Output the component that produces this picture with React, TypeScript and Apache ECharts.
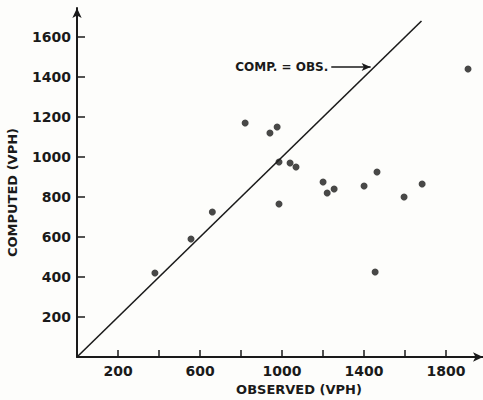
import React, { useEffect, useRef } from "react";
import * as echarts from "echarts";

const observed = [380, 556, 660, 820, 941, 976, 985, 985, 1039, 1068, 1200, 1220, 1254, 1400, 1463, 1454, 1595, 1683, 1907];
const computed = [420, 590, 725, 1170, 1120, 1150, 975, 765, 970, 950, 875, 820, 840, 855, 925, 425, 800, 865, 1440];
const xTicks = [200, 400, 600, 800, 1000, 1200, 1400, 1600, 1800];
const xLabels = [200, 600, 1000, 1400, 1800];
const yTicks = [200, 400, 600, 800, 1000, 1200, 1400, 1600];
const identityLine = [[0, 0], [1680, 1680]];
const annotationArrow = [[1240, 1450], [1432, 1450]];
const annotationText = "COMP. = OBS.";

const FONT = "DejaVu Sans";
const INK = "#1a1a1a";

export default function App() {
  const ref = useRef<HTMLDivElement>(null);
  useEffect(() => {
    const chart = echarts.init(ref.current!, null, { renderer: "svg" });
    chart.setOption({
      animation: false,
      backgroundColor: "#fdfdfb",
      grid: { left: 77, right: 0, top: 8, bottom: 43, containLabel: false, outerBoundsMode: "none" },
      xAxis: {
        type: "value",
        min: 0,
        max: 1980,
        splitLine: { show: false },
        axisLine: { onZero: false, symbol: ["none", "arrow"], symbolSize: [7, 10], lineStyle: { color: INK, width: 2 } },
        axisTick: { inside: true, length: 7, customValues: xTicks, lineStyle: { color: INK, width: 1.5 } },
        axisLabel: { customValues: xLabels, formatter: (v: number) => String(v), margin: 7, color: INK, fontFamily: FONT, fontWeight: "bold", fontSize: 14 },
        name: "OBSERVED (VPH)",
        nameLocation: "middle",
        nameGap: 26,
        nameTextStyle: { color: INK, fontFamily: FONT, fontWeight: "bold", fontSize: 13, padding: [0, 0, 0, 38] },
      },
      yAxis: {
        type: "value",
        min: 0,
        max: 1745,
        splitLine: { show: false },
        axisLine: { onZero: false, symbol: ["none", "arrow"], symbolSize: [7, 10], lineStyle: { color: INK, width: 2 } },
        axisTick: { inside: true, length: 8, customValues: yTicks, lineStyle: { color: INK, width: 1.5 } },
        axisLabel: { customValues: yTicks, formatter: (v: number) => String(v), margin: 6, color: INK, fontFamily: FONT, fontWeight: "bold", fontSize: 14 },
        name: "COMPUTED (VPH)",
        nameLocation: "middle",
        nameGap: 58,
        nameTextStyle: { color: INK, fontFamily: FONT, fontWeight: "bold", fontSize: 13, padding: [0, 20, 0, 0] },
      },
      series: [
        {
          type: "line",
          data: identityLine,
          symbol: "none",
          lineStyle: { color: INK, width: 1.6 },
          markLine: {
            silent: true,
            symbol: ["none", "arrow"],
            symbolSize: [6, 9],
            lineStyle: { color: INK, width: 1.5, type: "solid" },
            label: { show: true, position: "start", distance: 3, formatter: annotationText, color: INK, fontFamily: FONT, fontWeight: "bold", fontSize: 12 },
            data: [[{ coord: annotationArrow[0] }, { coord: annotationArrow[1] }]],
          },
        },
        {
          type: "scatter",
          data: observed.map((x, i) => [x, computed[i]]),
          symbolSize: 7,
          itemStyle: { color: INK },
        },
      ],
    });
    return () => chart.dispose();
  }, []);
  return <div ref={ref} style={{ width: 483, height: 400, position: "absolute", left: 0, top: 0 }} />;
}
